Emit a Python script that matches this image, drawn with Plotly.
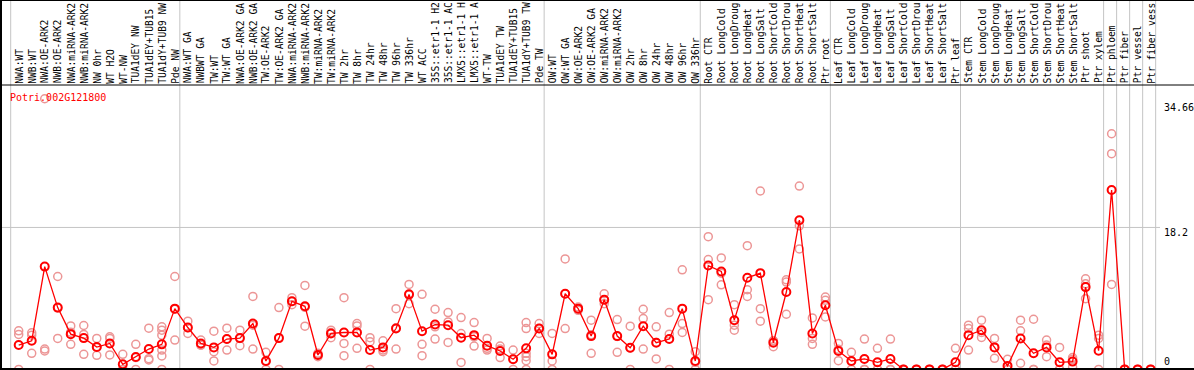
import plotly.graph_objects as go

gene = "Potri.002G121800"

categories = [
    "NWA:WT", "NWB:WT", "NWA:OE-ARK2", "NWB:OE-ARK2", "NWA:miRNA-ARK2", "NWB:miRNA-ARK2",
    "NW 0hr", "WT H2O", "WT-NW", "TUA1dEY NW", "TUA1dEY+TUB15 NW", "TUA1dY+TUB9 NW", "Pde NW",
    "NWA:WT GA", "NWBWT GA", "TW:WT", "TW:WT GA", "NWA:OE-ARK2 GA", "NWB:OE-ARK2 GA",
    "TW:OE-ARK2", "TW:OE-ARK2 GA", "NWA:miRNA-ARK2 GA", "NWB:miRNA-ARK2 GA", "TW:miRNA-ARK2",
    "TW:miRNA-ARK2 GA", "TW 2hr", "TW 8hr", "TW 24hr", "TW 48hr", "TW 96hr", "TW 336hr", "WT ACC",
    "35S::etr1-1 H2O", "35S::etr1-1 ACC", "LMX5::etr1-1 H2O", "LMX5::etr1-1 ACC", "WT-TW",
    "TUA1dEY TW", "TUA1dEY+TUB15 TW", "TUA1dY+TUB9 TW", "Pde TW",
    "OW:WT", "OW:WT GA", "OW:OE-ARK2", "OW:OE-ARK2 GA", "OW:miRNA-ARK2", "OW:miRNA-ARK2 GA",
    "OW 2hr", "OW 8hr", "OW 24hr", "OW 48hr", "OW 96hr", "OW 336hr",
    "Root CTR", "Root LongCold", "Root LongDrought", "Root LongHeat", "Root LongSalt",
    "Root ShortCold", "Root ShortDrought", "Root ShortHeat", "Root ShortSalt", "Ptr root",
    "Leaf CTR", "Leaf LongCold", "Leaf LongDrought", "Leaf LongHeat", "Leaf LongSalt",
    "Leaf ShortCold", "Leaf ShortDrought", "Leaf ShortHeat", "Leaf ShortSalt", "Ptr leaf",
    "Stem CTR", "Stem LongCold", "Stem LongDrought", "Stem LongHeat", "Stem LongSalt",
    "Stem ShortCold", "Stem ShortDrought", "Stem ShortHeat", "Stem ShortSalt", "Ptr shoot",
    "Ptr xylem", "Ptr phloem", "Ptr fiber", "Ptr vessel", "Ptr fiber vessel",
]

# first category index of each group (separators drawn just before them), plus the end
group_starts = [0, 13, 41, 53, 63, 73, 84, 85, 86, 87, 88]

mean_values = [
    3.12, 3.67, 13.18, 7.92, 4.52, 4.01, 2.87, 3.33, 0.66, 1.59,
    2.61, 3.21, 7.79, 5.37, 3.33, 2.82, 3.89, 4.01, 5.88, 1.08,
    4.01, 8.73, 8.09, 1.85, 4.61, 4.73, 4.73, 2.48, 2.82, 5.24,
    9.62, 4.90, 5.75, 5.67, 4.06, 4.39, 3.04, 2.36, 1.30, 2.70,
    5.24, 1.93, 9.70, 7.79, 4.27, 8.94, 4.27, 2.78, 5.54, 3.42,
    3.89, 7.79, 1.08, 13.31, 12.55, 6.31, 11.74, 12.34, 3.42, 9.92,
    19.13, 4.61, 8.22, 2.36, 1.08, 1.34, 0.91, 1.34, 0, 0,
    0, 0, 0.91, 4.39, 5.03, 2.82, 0.45, 3.97, 2.06, 2.82,
    0.91, 1.00, 10.55, 2.40, 22.99, 0, 0, 0,
]

replicates = [
    [4.95, 4.48, 0], [4.69, 4.39, 2.06], [2.61, 2.36, 34.7], [11.91, 3.97, 7.87],
    [5.58, 3.21, 4.77], [5.63, 1.93, 4.48], [3.97, 2.82, 1.80], [4.18, 3.97, 1.85],
    [1.93, 0, 0], [3.21, 0, 1.51], [5.29, 1.38, 1.21], [5.46, 5.03, 4.39, 2.48, 1.72, 0],
    [11.91, 3.76, 7.71], [6.18, 4.61, 5.33], [3.76, 3.12, 3.12], [4.90, 2.27, 1.08],
    [5.29, 2.48, 3.89], [5.03, 3.04, 3.97], [9.36, 2.61, 5.67], [2.19, 0, 1.00],
    [7.92, 0, 4.06], [9.19, 8.30, 8.70], [10.76, 5.54, 7.96], [2.06, 1.85, 1.63],
    [5.03, 4.06, 4.73], [9.19, 3.33, 1.76], [5.88, 5.58, 2.70], [4.06, 3.55, 0],
    [3.67, 2.48, 2.27], [7.79, 2.61, 5.33], [10.89, 8.43, 9.53], [9.62, 3.21, 1.76],
    [7.71, 5.46, 3.89], [7.28, 6.09, 3.46], [6.65, 4.60, 0.90], [6.01, 4.18, 2.99],
    [3.97, 2.70, 2.48], [2.99, 1.51, 2.61], [2.48, 0, 1.34], [6.01, 5.24, 2.06, 1.63, 1.12, 0],
    [5.88, 4.61, 5.24], [4.61, 1.08, 0], [14.16, 5.24, 9.70], [8.00, 7.58, 7.79],
    [6.31, 2.06, 4.44], [9.70, 8.43, 8.94], [6.39, 2.19, 4.22], [5.54, 0, 2.74],
    [7.71, 6.52, 2.61], [5.46, 1.34, 3.46], [7.28, 4.52, 0], [12.76, 5.88, 4.73],
    [2.27, 0, 0.91], [17.01, 14.08, 8.94], [14.29, 12.34, 10.85], [8.30, 5.67, 5.03],
    [15.86, 10.21, 9.36], [22.87, 7.79, 6.18], [3.67, 2.91, 3.67], [11.49, 11.19, 7.07],
    [23.50, 18.41, 15.44], [6.60, 3.97, 3.21], [9.28, 8.85, 6.73], [3.33, 1.12, 2.57],
    [2.19, 0, 1.00], [3.89, 0, 0], [2.70, 0, 0], [3.89, 0, 0],
    [0, 0, 0], [0, 0, 0], [0, 0, 0], [0, 0, 0],
    [2.70, 0, 0], [5.67, 5.24, 2.48], [6.31, 4.10, 4.73], [3.97, 1.42, 2.82],
    [1.30, 0, 0], [6.31, 4.95, 0.79], [6.43, 0, 0], [3.76, 3.12, 1.63],
    [2.82, 0, 0], [1.51, 1.30, 0.30], [11.61, 10.97, 9.07], [4.39, 3.97, 0],
    [30.21, 27.66, 10.89], [0, 0, 0], [0, 0, 0], [0, 0, 0],
]

y_tick_labels = ["34.66", "18.2", "0"]
grid_value = 18.2

assert len(categories) == len(mean_values) == len(replicates) == 88

W, H = 1194, 370
MONO = "DejaVu Sans Mono"
RED = "#ff0000"
PINK = "rgb(236,150,150)"
GRID = "#c4c4c4"
LABEL_CHARS = 14  # the label strip only has room for this many characters

# pixel geometry helpers (layout only)
PLOT_RIGHT = 1160
X0_PX, STEP_PX = 18.7, 13.011
x_range = [-X0_PX / STEP_PX, (PLOT_RIGHT - X0_PX) / STEP_PX]
PX_PER_UNIT = 7.80
ZERO_PX = 369.4
y_range = [-(H - ZERO_PX) / PX_PER_UNIT, ZERO_PX / PX_PER_UNIT]


def py(px):
    return (H - px) / H


def px_x(px):
    return px / W


xs = list(range(len(categories)))
rep_x, rep_y = [], []
for i, vals in enumerate(replicates):
    for v in vals:
        rep_x.append(i)
        rep_y.append(v)

fig = go.Figure()
fig.add_trace(go.Scatter(
    x=rep_x, y=rep_y, mode="markers",
    marker=dict(symbol="circle-open", size=8, color=PINK, line=dict(width=1.5, color=PINK)),
    hoverinfo="skip", showlegend=False, cliponaxis=False,
))
fig.add_trace(go.Scatter(
    x=xs, y=mean_values, mode="lines+markers",
    line=dict(color=RED, width=1.3),
    marker=dict(symbol="circle-open", size=8, color=RED, line=dict(width=2, color=RED)),
    showlegend=False, cliponaxis=False,
))

shapes = []
sep_offset = 8 / STEP_PX
for g in group_starts:
    shapes.append(dict(type="line", xref="x", yref="paper", x0=g - sep_offset, x1=g - sep_offset,
                       y0=0, y1=1, line=dict(color=GRID, width=1), layer="below"))
shapes.append(dict(type="line", xref="paper", yref="y", x0=0, x1=px_x(PLOT_RIGHT),
                   y0=grid_value, y1=grid_value, line=dict(color=GRID, width=1), layer="below"))
shapes.append(dict(type="line", xref="paper", yref="paper", x0=0, x1=1, y0=py(0.5), y1=py(0.5),
                   line=dict(color="black", width=1)))
shapes.append(dict(type="line", xref="paper", yref="paper", x0=0, x1=1, y0=py(85), y1=py(85),
                   line=dict(color="black", width=1)))
shapes.append(dict(type="line", xref="paper", yref="paper", x0=0, x1=1, y0=py(369), y1=py(369),
                   line=dict(color="black", width=2)))
shapes.append(dict(type="line", xref="paper", yref="paper", x0=px_x(1), x1=px_x(1), y0=0, y1=1,
                   line=dict(color="black", width=2)))

annotations = []
for i, name in enumerate(categories):
    annotations.append(dict(
        x=i, xref="x", y=py(84.5), yref="paper", text=name[:LABEL_CHARS].rstrip(), textangle=-90,
        xanchor="center", yanchor="bottom", showarrow=False, borderpad=0,
        font=dict(family=MONO, size=9.6, color="black"),
    ))

annotations.append(dict(
    x=px_x(9), xref="paper", y=py(97), yref="paper", text=gene, xanchor="left",
    yanchor="middle", showarrow=False, borderpad=0, font=dict(family=MONO, size=10, color=RED),
))

tick_centers_px = [107.7, 232.7, 361.7]
for lab, cy in zip(y_tick_labels, tick_centers_px):
    annotations.append(dict(
        x=px_x(1163), xref="paper", y=py(cy), yref="paper", text=lab, xanchor="left",
        yanchor="middle", showarrow=False, borderpad=0, font=dict(family=MONO, size=10, color="black"),
    ))

fig.update_layout(
    width=W, height=H,
    margin=dict(l=0, r=0, t=0, b=0),
    paper_bgcolor="white", plot_bgcolor="white",
    xaxis=dict(range=x_range, domain=[0, PLOT_RIGHT / W], showgrid=False, zeroline=False,
               showticklabels=False, ticks="", showline=False),
    yaxis=dict(range=y_range, domain=[0, 1], showgrid=False, zeroline=False,
               showticklabels=False, ticks="", showline=False),
    shapes=shapes, annotations=annotations,
)

fig.write_html(
    "out.html",
    config={"displayModeBar": False, "staticPlot": True},
    post_script="document.body.style.margin='0';document.body.style.padding='0';"
                "document.documentElement.style.overflow='hidden';",
)
